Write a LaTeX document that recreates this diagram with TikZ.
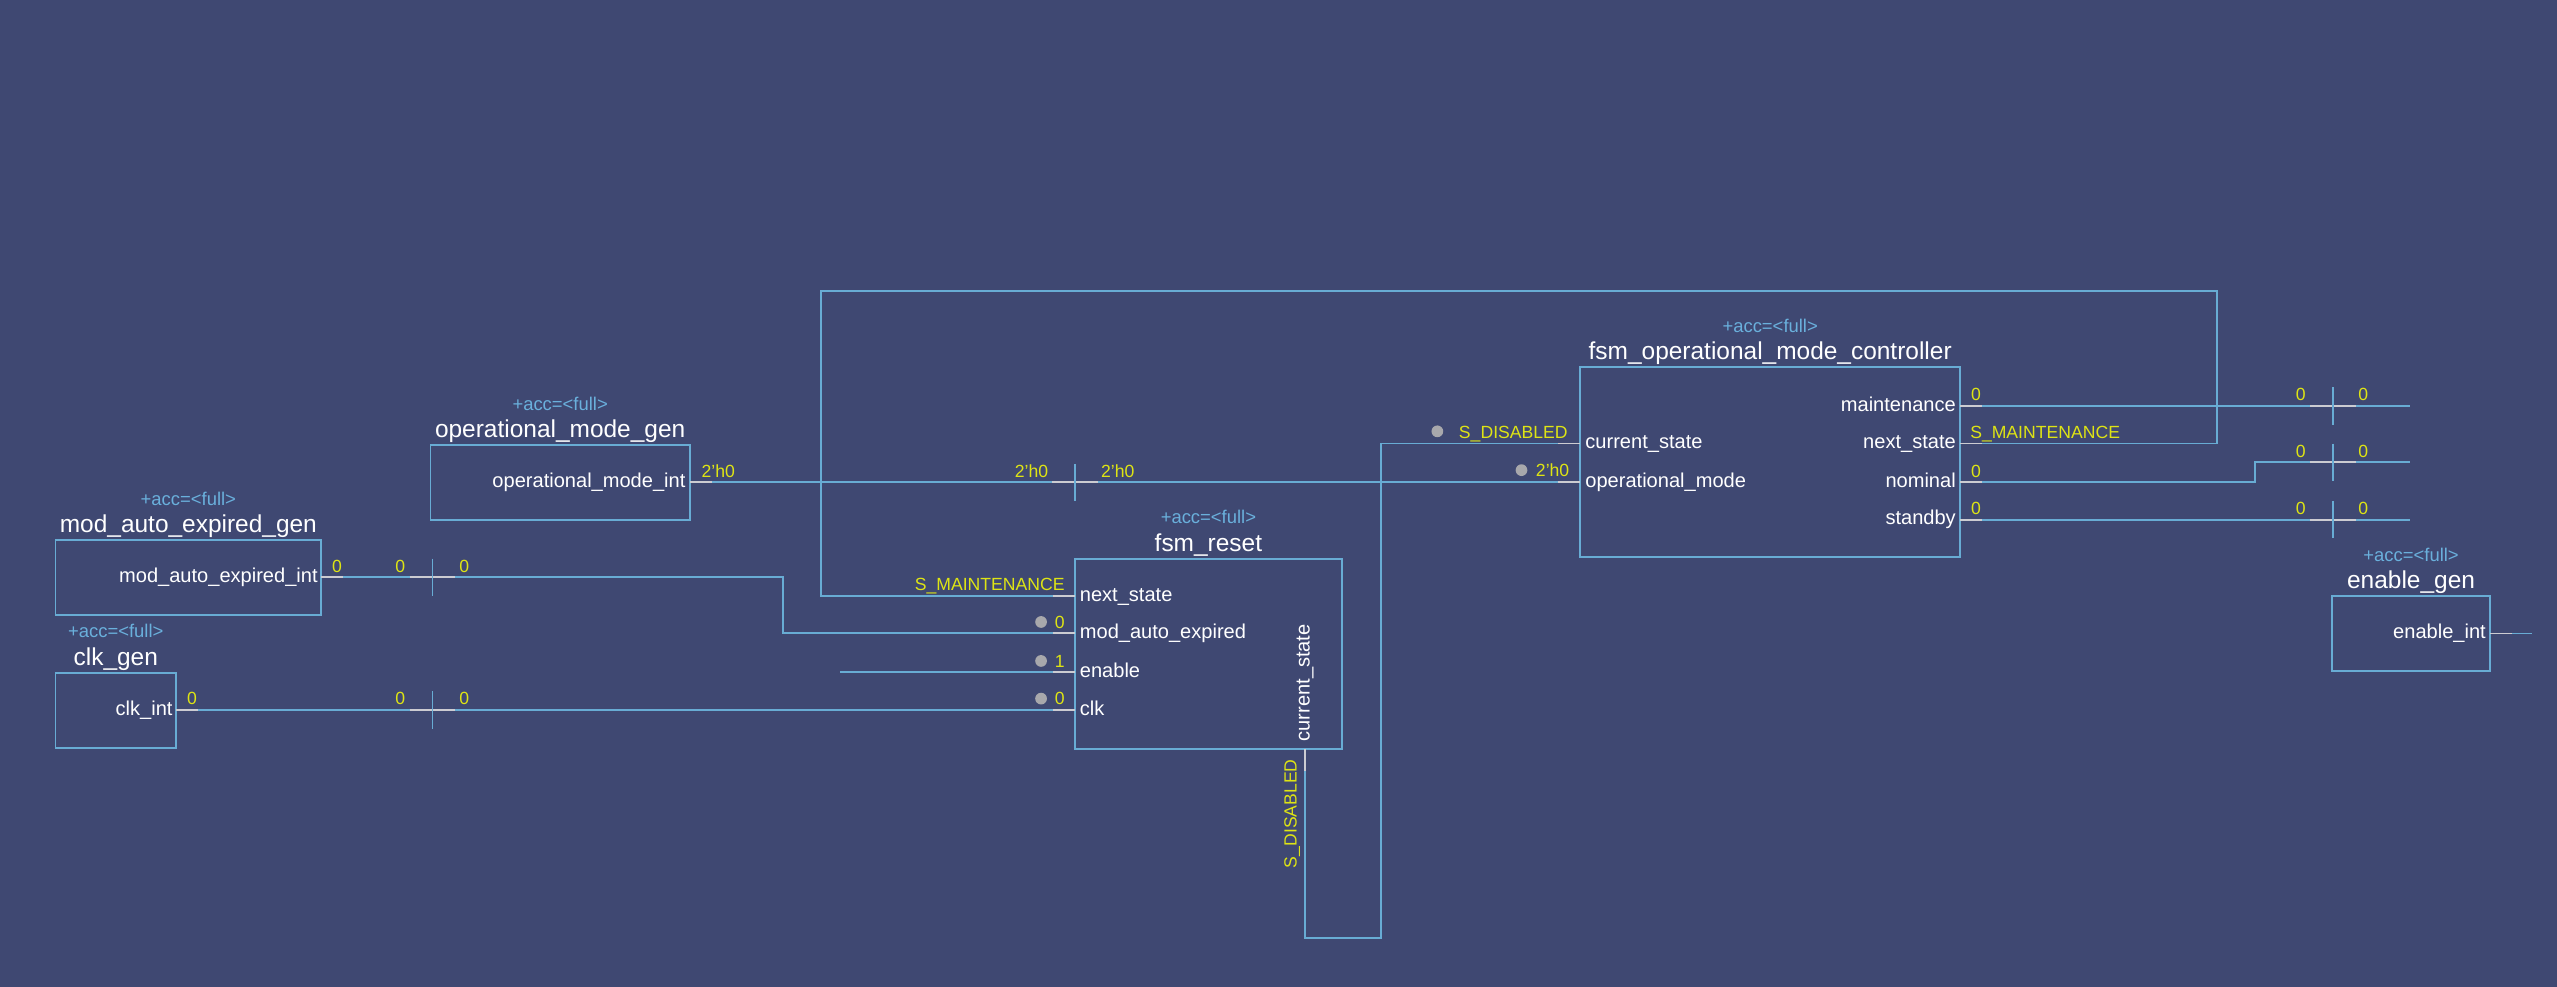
\documentclass[tikz,border=0pt]{standalone}
\usepackage{fontspec}
\setmainfont{Liberation Sans}
\usepackage{tikz, xcolor}

\definecolor{bgcol}{RGB}{63,72,114}
\definecolor{wirecol}{RGB}{104,172,212}
\definecolor{valcol}{RGB}{222,228,20}
\definecolor{acccol}{RGB}{106,176,220}
\definecolor{stubcol}{RGB}{204,204,210}
\definecolor{dotcol}{RGB}{168,168,172}

\begin{document}
\begin{tikzpicture}
	[
		x=1pt, y=-1pt,
		block/.style={draw=wirecol, line width=1.1pt, inner sep=0pt},
		title/.style={white, font=\fontsize{15}{18}\selectfont, anchor=base, inner sep=0pt},
		acc/.style={acccol, font=\fontsize{11.3}{13}\selectfont, anchor=base, inner sep=0pt},
		port/.style={white, font=\fontsize{12.3}{14}\selectfont, inner sep=0pt},
		val/.style={valcol, font=\fontsize{10.8}{13}\selectfont, inner sep=0pt},
		wire/.style={wirecol, line width=1.1pt},
		stub/.style={stubcol, line width=1.1pt},
		tick/.style={wirecol, line width=1.1pt},
		pin/.style={circle, fill=dotcol, inner sep=0pt, minimum size=7.2pt}
	]

	% Background.
	\useasboundingbox (0,0) rectangle (1568,605);
	\fill[bgcol] (0,0) rectangle (1568,605);

	% Draw blocks.
	\node[block, minimum width=159pt, minimum height=46pt] (opgen) at (343.5,296) {};
	\node[block, minimum width=163pt, minimum height=46pt] (modgen) at (115.5,354) {};
	\node[block, minimum width=74pt, minimum height=46pt] (clkgen) at (71,435.5) {};
	\node[block, minimum width=164pt, minimum height=116.7pt] (rst) at (741,401) {};
	\node[block, minimum width=233pt, minimum height=116.5pt] (ctl) at (1085.5,283.5) {};
	\node[block, minimum width=97pt, minimum height=46pt] (engen) at (1478.5,388.5) {};

	% Block titles.
	\node[title] (opgen-name) at (343.5,268.3) {operational\_mode\_gen};
	\node[acc] (opgen-acc) at (343.5,251.7) {+acc=<full>};
	\node[title] (modgen-name) at (115.5,326.3) {mod\_auto\_expired\_gen};
	\node[acc] (modgen-acc) at (115.5,309.7) {+acc=<full>};
	\node[title] (clkgen-name) at (71,407.8) {clk\_gen};
	\node[acc] (clkgen-acc) at (71,391.2) {+acc=<full>};
	\node[title] (rst-name) at (741,337.9) {fsm\_reset};
	\node[acc] (rst-acc) at (741,321.3) {+acc=<full>};
	\node[title] (ctl-name) at (1085.5,220.6) {fsm\_operational\_mode\_controller};
	\node[acc] (ctl-acc) at (1085.5,204) {+acc=<full>};
	\node[title] (engen-name) at (1478.5,360.8) {enable\_gen};
	\node[acc] (engen-acc) at (1478.5,344.2) {+acc=<full>};

	% Port names.
	\node[port, anchor=base east] (opgen-pn) at (420.5,298.9) {operational\_mode\_int};
	\node[port, anchor=base east] (modgen-pn) at (195,357.1) {mod\_auto\_expired\_int};
	\node[port, anchor=base east] (clkgen-pn) at (106,438.5) {clk\_int};
	\node[port, anchor=base east] (engen-pn) at (1524.5,391.6) {enable\_int};
	\node[port, anchor=base west] (rst-ns-pn) at (662,368.6) {next\_state};
	\node[port, anchor=base west] (rst-mae-pn) at (662,391.5) {mod\_auto\_expired};
	\node[port, anchor=base west] (rst-en-pn) at (662,415.4) {enable};
	\node[port, anchor=base west] (rst-clk-pn) at (662,438.5) {clk};
	\node[port, anchor=base west, rotate=90] (rst-cs-pn) at (803,454.8) {current\_state};
	\node[port, anchor=base west] (ctl-cs-pn) at (972,275.1) {current\_state};
	\node[port, anchor=base west] (ctl-om-pn) at (972,298.9) {operational\_mode};
	\node[port, anchor=base east] (ctl-mt-pn) at (1199.5,252.1) {maintenance};
	\node[port, anchor=base east] (ctl-ns-pn) at (1199.5,275.1) {next\_state};
	\node[port, anchor=base east] (ctl-nm-pn) at (1199.5,298.9) {nominal};
	\node[port, anchor=base east] (ctl-sb-pn) at (1199.5,321.8) {standby};

	% Port points.
	\coordinate (opgen-o) at (423,295.8);
	\coordinate (modgen-o) at (197,354);
	\coordinate (clkgen-o) at (108,435.4);
	\coordinate (engen-o) at (1527,388.5);
	\coordinate (rst-ns) at (659,365.5);
	\coordinate (rst-mae) at (659,388.4);
	\coordinate (rst-en) at (659,412.3);
	\coordinate (rst-clk) at (659,435.4);
	\coordinate (rst-cs) at (800.3,459.3);
	\coordinate (ctl-cs) at (969,272);
	\coordinate (ctl-om) at (969,295.8);
	\coordinate (ctl-mt) at (1202,249);
	\coordinate (ctl-ns) at (1202,272);
	\coordinate (ctl-nm) at (1202,295.8);
	\coordinate (ctl-sb) at (1202,318.7);

	% Loose wire ends.
	\coordinate (en-end) at (515,412.3);
	\coordinate (mt-end) at (1478,249);
	\coordinate (nm-end) at (1478,283.5);
	\coordinate (sb-end) at (1478,318.7);
	\coordinate (eg-end) at (1552.5,388.5);

	% Split marks.
	\coordinate (mod-cut) at (265.2,354);
	\coordinate (clk-cut) at (265.2,435.4);
	\coordinate (om-cut) at (659.2,295.8);
	\coordinate (mt-cut) at (1430.6,249);
	\coordinate (nm-cut) at (1430.6,283.5);
	\coordinate (sb-cut) at (1430.6,318.7);

	% Draw wires.
	\draw[wire] (modgen-o) -- (480,354) |- (rst-mae);
	\draw[wire] (clkgen-o) -- (rst-clk);
	\draw[wire] (opgen-o) -- (ctl-om);
	\draw[wire] (en-end) -- (rst-en);
	\draw[wire] (rst-ns) -| (503.3,178.5) -| (1359.4,272) -- (ctl-ns);
	\draw[wire] (rst-cs) |- (847,575.4) |- (ctl-cs);
	\draw[wire] (ctl-mt) -- (mt-end);
	\draw[wire] (ctl-nm) -| (1383,283.5) -- (nm-end);
	\draw[wire] (ctl-sb) -- (sb-end);
	\draw[wire] (engen-o) -- (eg-end);

	% Short light ends at the ports.
	\draw[stub] (opgen-o) -- ++(13.5,0);
	\draw[stub] (modgen-o) -- ++(13.5,0);
	\draw[stub] (clkgen-o) -- ++(13.5,0);
	\draw[stub] (engen-o) -- ++(13.5,0);
	\draw[stub] (rst-ns) -- ++(-13.5,0);
	\draw[stub] (rst-mae) -- ++(-13.5,0);
	\draw[stub] (rst-en) -- ++(-13.5,0);
	\draw[stub] (rst-clk) -- ++(-13.5,0);
	\draw[stub] (rst-cs) -- ++(0,13.5);
	\draw[stub] (ctl-cs) -- ++(-13.5,0);
	\draw[stub] (ctl-om) -- ++(-13.5,0);
	\draw[stub] (ctl-mt) -- ++(13.5,0);
	\draw[stub] (ctl-ns) -- ++(13.5,0);
	\draw[stub] (ctl-nm) -- ++(13.5,0);
	\draw[stub] (ctl-sb) -- ++(13.5,0);

	% Split marks on the wires.
	\draw[stub] (mod-cut) ++(-14,0) -- ++(28,0);
	\draw[tick] (mod-cut) ++(0,-11.4) -- ++(0,22.8);
	\draw[stub] (clk-cut) ++(-14,0) -- ++(28,0);
	\draw[tick] (clk-cut) ++(0,-11.4) -- ++(0,22.8);
	\draw[stub] (om-cut) ++(-14,0) -- ++(28,0);
	\draw[tick] (om-cut) ++(0,-11.4) -- ++(0,22.8);
	\draw[stub] (mt-cut) ++(-14,0) -- ++(28,0);
	\draw[tick] (mt-cut) ++(0,-11.4) -- ++(0,22.8);
	\draw[stub] (nm-cut) ++(-14,0) -- ++(28,0);
	\draw[tick] (nm-cut) ++(0,-11.4) -- ++(0,22.8);
	\draw[stub] (sb-cut) ++(-14,0) -- ++(28,0);
	\draw[tick] (sb-cut) ++(0,-11.4) -- ++(0,22.8);

	% Values on the left wires.
	\node[val, anchor=base west] (mod-v0) at (203.5,350.8) {0};
	\node[val, anchor=base east] (mod-v1) at (248.7,350.8) {0};
	\node[val, anchor=base west] (mod-v2) at (281.5,350.8) {0};
	\node[val, anchor=base west] (clk-v0) at (114.5,432.2) {0};
	\node[val, anchor=base east] (clk-v1) at (248.7,432.2) {0};
	\node[val, anchor=base west] (clk-v2) at (281.5,432.2) {0};
	\node[val, anchor=base west] (om-v0) at (430,292.6) {2'h0};
	\node[val, anchor=base east] (om-v1) at (643,292.6) {2'h0};
	\node[val, anchor=base west] (om-v2) at (675,292.6) {2'h0};

	% Values at fsm_reset.
	\node[val, anchor=base east] (rst-ns-v) at (653,362.3) {S\_MAINTENANCE};
	\node[val, anchor=base east] (rst-mae-v) at (653,385.2) {0};
	\node[pin] (rst-mae-pin) at (638.4,381.4) {};
	\node[val, anchor=base east] (rst-en-v) at (653,409.1) {1};
	\node[pin] (rst-en-pin) at (638.4,405.3) {};
	\node[val, anchor=base east] (rst-clk-v) at (653,432.2) {0};
	\node[pin] (rst-clk-pin) at (638.4,428.4) {};
	\node[val, anchor=south east, rotate=90] (rst-cs-v) at (797.5,465.5) {S\_DISABLED};

	% Values at the controller.
	\node[val, anchor=base east] (ctl-cs-v) at (961.5,268.6) {S\_DISABLED};
	\node[pin] (ctl-cs-pin) at (881.4,264.5) {};
	\node[val, anchor=base east] (ctl-om-v) at (962.5,292.4) {2'h0};
	\node[pin] (ctl-om-pin) at (933,288.3) {};
	\node[val, anchor=base west] (ctl-mt-v) at (1208.5,245.8) {0};
	\node[val, anchor=base west] (ctl-ns-v) at (1208,268.8) {S\_MAINTENANCE};
	\node[val, anchor=base west] (ctl-nm-v) at (1208.5,292.6) {0};
	\node[val, anchor=base west] (ctl-sb-v) at (1208.5,315.5) {0};

	% Values on the right wires.
	\node[val, anchor=base east] (mt-v1) at (1414,245.8) {0};
	\node[val, anchor=base west] (mt-v2) at (1446,245.8) {0};
	\node[val, anchor=base east] (nm-v1) at (1414,280.3) {0};
	\node[val, anchor=base west] (nm-v2) at (1446,280.3) {0};
	\node[val, anchor=base east] (sb-v1) at (1414,315.5) {0};
	\node[val, anchor=base west] (sb-v2) at (1446,315.5) {0};
\end{tikzpicture}
\end{document}
